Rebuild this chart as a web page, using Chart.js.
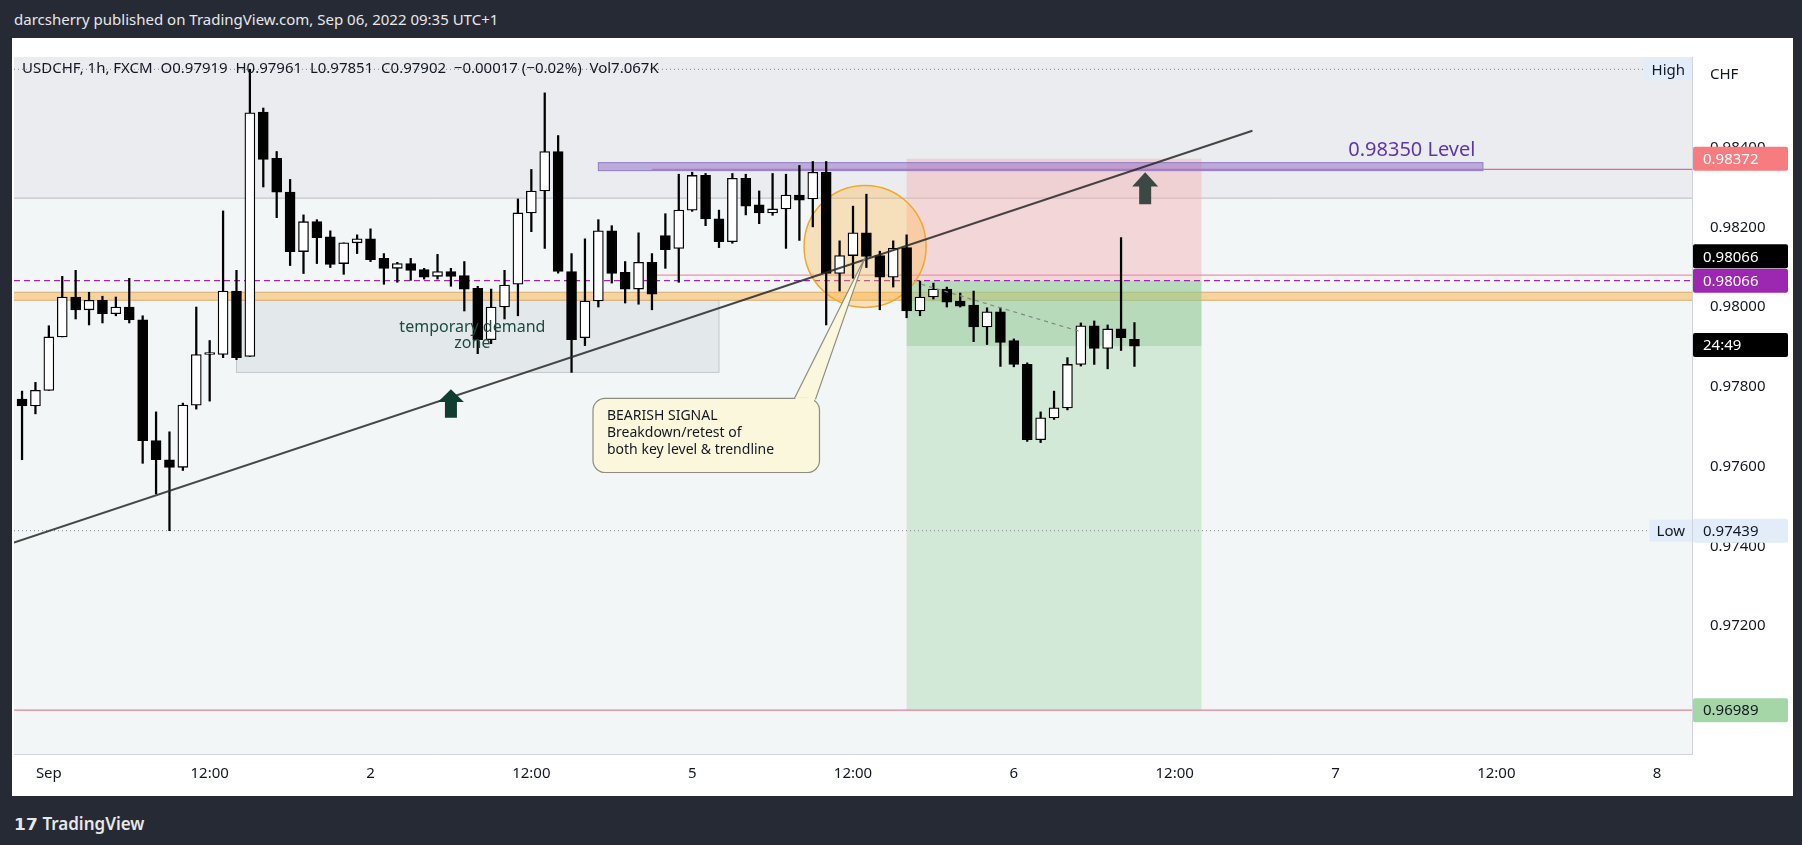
<!DOCTYPE html>
<html>
<head>
<meta charset="utf-8">
<script src="https://cdn.jsdelivr.net/npm/chart.js@4/dist/chart.umd.min.js"></script>
<style>
  html, body { margin: 0; padding: 0; background: #262a34; width: 1802px; height: 845px; overflow: hidden; font-family: "Noto Sans", sans-serif; }
  #hdr { position: absolute; left: 14px; top: 9px; color: #e8e8e8; font-size: 15px; }
  #wrap { position: absolute; left: 12px; top: 38px; width: 1781px; height: 758px; background: #fff; }
  #foot { position: absolute; left: 14px; top: 812px; color: #e8e8e8; font-size: 17px; font-weight: 600; }
</style>
</head>
<body>
<div id="hdr">darcsherry published on TradingView.com, Sep 06, 2022 09:35 UTC+1</div>
<div id="wrap"><canvas id="c" width="1781" height="758"></canvas></div>
<div id="foot">𝟭𝟳 TradingView</div>
<script>
// hourly bars, USDCHF 1h — first bar is Aug 31 22:00 (hour -2 from Sep 1 00:00)
const firstHour = -2;
const opens  = [0.97769,0.97752,0.97791,0.97925,0.98025,0.97993,0.98017,0.97983,0.98000,0.97968,0.97665,0.97617,0.97598,0.97754,0.97881,0.97881,0.98040,0.97876,0.98489,0.98373,0.98288,0.98139,0.98214,0.98176,0.98109,0.98161,0.98171,0.98122,0.98097,0.98109,0.98094,0.98077,0.98089,0.98079,0.98047,0.97918,0.98000,0.98057,0.98236,0.98291,0.98390,0.98089,0.97923,0.98015,0.98191,0.98087,0.98045,0.98112,0.98179,0.98147,0.98243,0.98330,0.98221,0.98164,0.98323,0.98256,0.98236,0.98246,0.98281,0.98271,0.98338,0.98084,0.98129,0.98186,0.98129,0.98075,0.98149,0.97990,0.98025,0.98045,0.98015,0.98005,0.97950,0.97988,0.97916,0.97856,0.97667,0.97722,0.97747,0.97856,0.97953,0.97896,0.97945,0.97919];
const highs  = [0.97789,0.97811,0.97953,0.98077,0.98092,0.98037,0.98027,0.98025,0.98072,0.97978,0.97737,0.97687,0.97759,0.98000,0.97916,0.98241,0.98092,0.98596,0.98499,0.98390,0.98320,0.98231,0.98219,0.98191,0.98161,0.98181,0.98196,0.98134,0.98112,0.98122,0.98097,0.98132,0.98097,0.98114,0.98052,0.98045,0.98092,0.98271,0.98345,0.98537,0.98430,0.98134,0.98171,0.98219,0.98204,0.98114,0.98186,0.98134,0.98234,0.98333,0.98338,0.98335,0.98243,0.98335,0.98333,0.98291,0.98335,0.98333,0.98355,0.98365,0.98365,0.98166,0.98253,0.98283,0.98140,0.98166,0.98181,0.98065,0.98060,0.98050,0.98035,0.98040,0.97998,0.97998,0.97920,0.97860,0.97737,0.97789,0.97873,0.97960,0.97965,0.97955,0.98174,0.97961];
const lows   = [0.97617,0.97732,0.97791,0.97925,0.97970,0.97955,0.97960,0.97978,0.97960,0.97608,0.97531,0.97439,0.97590,0.97744,0.97764,0.97873,0.97868,0.97876,0.98301,0.98224,0.98104,0.98084,0.98109,0.98099,0.98082,0.98134,0.98114,0.98057,0.98062,0.98067,0.98070,0.98070,0.98052,0.97990,0.97883,0.97908,0.97970,0.97978,0.98189,0.98147,0.98085,0.97836,0.97903,0.98000,0.98060,0.98010,0.98007,0.97993,0.98097,0.98062,0.98240,0.98204,0.98149,0.98160,0.98231,0.98209,0.98230,0.98147,0.98167,0.98201,0.97955,0.98040,0.98072,0.98099,0.97993,0.98050,0.97973,0.97978,0.98020,0.98000,0.98000,0.97913,0.97906,0.97851,0.97850,0.97663,0.97660,0.97718,0.97742,0.97852,0.97856,0.97845,0.97891,0.97851];
const closes = [0.97752,0.97791,0.97925,0.98025,0.97993,0.98017,0.97983,0.98000,0.97968,0.97665,0.97617,0.97598,0.97754,0.97881,0.97883,0.98040,0.97873,0.98487,0.98370,0.98288,0.98139,0.98214,0.98174,0.98107,0.98161,0.98171,0.98119,0.98097,0.98109,0.98092,0.98075,0.98089,0.98077,0.98045,0.97918,0.98000,0.98055,0.98236,0.98291,0.98390,0.98089,0.97918,0.98015,0.98191,0.98084,0.98045,0.98112,0.98032,0.98144,0.98243,0.98330,0.98221,0.98164,0.98323,0.98253,0.98236,0.98246,0.98281,0.98268,0.98338,0.98084,0.98129,0.98186,0.98127,0.98075,0.98147,0.97990,0.98025,0.98045,0.98012,0.98002,0.97950,0.97988,0.97911,0.97856,0.97667,0.97722,0.97747,0.97856,0.97953,0.97896,0.97945,0.97923,0.97902];

const tickHours  = [0, 12, 24, 36, 48, 60, 72, 84, 96, 108, 120];
const tickLabels = ['Sep', '12:00', '2', '12:00', '5', '12:00', '6', '12:00', '7', '12:00', '8'];
const priceTicks = [0.972, 0.974, 0.976, 0.978, 0.980, 0.982, 0.984];

// drawing levels
const highLevel = 0.98596, lowLevel = 0.97439;
const entry = 0.98066, stop = 0.98372, target = 0.96989, lastPrice = 0.97902;
const keyLevel = [0.98017, 0.98037];
const trend = [[-2.6, 0.97409], [89.8, 0.98442]];

const FONT = '"Noto Sans", sans-serif';
const wicks = opens.map((o, i) => ({ x: firstHour + i, y: [lows[i], highs[i]] }));
const bodies = opens.map((o, i) => ({ x: firstHour + i, y: [o, closes[i]] }));
const bodyCol = opens.map((o, i) => closes[i] >= o ? '#ffffff' : '#000000');

const overlay = {
  id: 'overlay',
  beforeDatasetsDraw(chart) {
    const { ctx, chartArea: a, scales: { x, y } } = chart;
    const X = v => x.getPixelForValue(v), Y = v => y.getPixelForValue(v);
    ctx.save();
    ctx.beginPath(); ctx.rect(a.left, a.top, a.width, a.height); ctx.clip();
    ctx.fillStyle = '#f2f6f7'; ctx.fillRect(a.left, a.top, a.width, a.height);
    ctx.fillStyle = '#ebecef'; ctx.fillRect(a.left, a.top, a.width, Y(0.98273) - a.top);
    ctx.strokeStyle = '#b8bbc0'; ctx.lineWidth = 1;
    ctx.beginPath(); ctx.moveTo(a.left, Y(0.98273)); ctx.lineTo(a.right, Y(0.98273)); ctx.stroke();
    // demand zone
    ctx.fillStyle = 'rgba(200,205,212,0.35)'; ctx.strokeStyle = '#c3c6cc';
    ctx.fillRect(X(14), Y(0.98017), X(50) - X(14), Y(0.97836) - Y(0.98017));
    ctx.strokeRect(X(14), Y(0.98017), X(50) - X(14), Y(0.97836) - Y(0.98017));
    // key level band
    ctx.fillStyle = '#f8d49c'; ctx.fillRect(a.left, Y(keyLevel[1]), a.width, Y(keyLevel[0]) - Y(keyLevel[1]));
    ctx.strokeStyle = '#d4ac74';
    ctx.strokeRect(a.left - 2, Y(keyLevel[1]), a.width + 4, Y(keyLevel[0]) - Y(keyLevel[1]));
    // short position
    ctx.fillStyle = 'rgba(244,170,170,0.4)'; ctx.fillRect(X(64), Y(stop), X(86) - X(64), Y(entry) - Y(stop));
    ctx.fillStyle = 'rgba(165,214,167,0.4)'; ctx.fillRect(X(64), Y(entry), X(86) - X(64), Y(target) - Y(entry));
    ctx.fillStyle = 'rgba(120,190,120,0.3)'; ctx.fillRect(X(64), Y(entry), X(86) - X(64), Y(lastPrice) - Y(entry));
    // level rectangle
    ctx.fillStyle = 'rgba(149,117,205,0.55)'; ctx.strokeStyle = '#8e7cc3';
    ctx.fillRect(X(41), Y(0.98362), X(107) - X(41), Y(0.98342) - Y(0.98362));
    ctx.strokeRect(X(41), Y(0.98362), X(107) - X(41), Y(0.98342) - Y(0.98362));
    // horizontal levels
    const hline = (p, col, dash, x0) => {
      ctx.strokeStyle = col; ctx.setLineDash(dash); ctx.lineWidth = 1.2;
      ctx.beginPath(); ctx.moveTo(x0 ?? a.left, Y(p)); ctx.lineTo(a.right, Y(p)); ctx.stroke();
      ctx.setLineDash([]);
    };
    hline(highLevel, '#9598a1', [1, 3]);
    hline(lowLevel, '#9598a1', [1, 3]);
    hline(entry, '#9c27b0', [6, 4]);
    hline(target, '#e57f9a', []);
    hline(0.98345, '#d66b9f', [], X(45));
    hline(0.98080, '#ef8fb0', [], X(45));
    // circle
    ctx.beginPath(); ctx.arc(X(60.9), Y(0.98152), 61, 0, Math.PI * 2);
    ctx.fillStyle = 'rgba(255,183,77,0.35)'; ctx.fill();
    ctx.strokeStyle = '#f5a623'; ctx.lineWidth = 1.5; ctx.stroke();
    ctx.restore();
  },
  afterDatasetsDraw(chart) {
    const { ctx, chartArea: a, scales: { x, y } } = chart;
    const X = v => x.getPixelForValue(v), Y = v => y.getPixelForValue(v);
    ctx.save();
    ctx.beginPath(); ctx.rect(a.left, a.top, a.width, a.height); ctx.clip();
    // trendline
    ctx.strokeStyle = 'rgba(40,40,40,0.85)'; ctx.lineWidth = 2;
    ctx.beginPath(); ctx.moveTo(X(trend[0][0]), Y(trend[0][1])); ctx.lineTo(X(trend[1][0]), Y(trend[1][1])); ctx.stroke();
    // dashed projection
    ctx.strokeStyle = '#7d8a80'; ctx.setLineDash([4, 4]); ctx.lineWidth = 1.2;
    ctx.beginPath(); ctx.moveTo(X(65.1), Y(0.98057)); ctx.lineTo(X(77), Y(0.97938)); ctx.stroke();
    ctx.setLineDash([]);
    // callout
    const bx0 = X(40.6), bx1 = X(57.5), by0 = Y(0.97771), by1 = Y(0.97585);
    ctx.beginPath();
    ctx.moveTo(X(55.6), by0 + 1); ctx.lineTo(X(60.9), Y(0.98125)); ctx.lineTo(X(57.2), by0 + 1);
    ctx.fillStyle = '#fbf7dc'; ctx.fill(); ctx.strokeStyle = '#8c8c80'; ctx.lineWidth = 1.2; ctx.stroke();
    ctx.beginPath(); ctx.roundRect(bx0, by0, bx1 - bx0, by1 - by0, 12);
    ctx.fill(); ctx.stroke();
    ctx.fillStyle = '#fbf7dc'; ctx.fillRect(X(55.7), by0 - 1, X(57.1) - X(55.7), 4);
    ctx.fillStyle = '#131722'; ctx.font = '14px ' + FONT; ctx.textBaseline = 'middle';
    ['BEARISH SIGNAL', 'Breakdown/retest of', 'both key level & trendline'].forEach((t, i) =>
      ctx.fillText(t, bx0 + 14, by0 + 18 + i * 17));
    // arrows
    const arrow = (h, top, bot, col) => {
      const cx = X(h), t = Y(top), b = Y(bot), mid = t + (b - t) * 0.45;
      ctx.beginPath();
      ctx.moveTo(cx, t); ctx.lineTo(cx + 13, mid); ctx.lineTo(cx + 6, mid); ctx.lineTo(cx + 6, b);
      ctx.lineTo(cx - 6, b); ctx.lineTo(cx - 6, mid); ctx.lineTo(cx - 13, mid); ctx.closePath();
      ctx.fillStyle = col; ctx.fill();
    };
    arrow(30, 0.97794, 0.97722, '#0f3d2f');
    arrow(81.8, 0.98338, 0.98258, '#3c4844');
    // texts
    ctx.fillStyle = '#1c4a3c'; ctx.font = '16px ' + FONT; ctx.textAlign = 'center';
    ctx.fillText('temporary demand', X(31.6), Y(0.97948));
    ctx.fillText('zone', X(31.6), Y(0.97908));
    ctx.fillStyle = '#5e35b1'; ctx.font = '20px ' + FONT;
    ctx.fillText('0.98350 Level', X(101.7), Y(0.98393));
    ctx.textAlign = 'left'; ctx.fillStyle = '#131722'; ctx.font = '15px ' + FONT;
    ctx.fillText('USDCHF, 1h, FXCM  O0.97919  H0.97961  L0.97851  C0.97902  −0.00017 (−0.02%)  Vol7.067K', a.left + 8, a.top + 12);
    // High / Low tags
    const tag = (t, h, p) => {
      ctx.font = '15px ' + FONT; const w = ctx.measureText(t).width + 14;
      ctx.fillStyle = '#e3edf9'; ctx.fillRect(X(h) - w, Y(p) - 11, w, 22);
      ctx.fillStyle = '#131722'; ctx.fillText(t, X(h) - w + 7, Y(p) + 1);
    };
    tag('High', 122.6, highLevel);
    tag('Low', 122.6, lowLevel);
    ctx.restore();
  },
  afterDraw(chart) {
    const { ctx, chartArea: a, scales: { y } } = chart;
    const Y = v => y.getPixelForValue(v);
    ctx.save();
    ctx.font = '15px ' + FONT; ctx.textBaseline = 'middle';
    const box = (p, txt, bg, fg) => {
      ctx.fillStyle = bg; ctx.beginPath(); ctx.roundRect(a.right + 1, Y(p) - 12, 95, 24, 2); ctx.fill();
      ctx.fillStyle = fg; ctx.fillText(txt, a.right + 11, Y(p) + 1);
    };
    box(stop, '0.98372', '#f77c80', '#ffffff');
    box(0.98127, '0.98066', '#000000', '#ffffff');
    box(entry, '0.98066', '#9c27b0', '#ffffff');
    box(0.97905, '24:49', '#000000', '#ffffff');
    box(lowLevel, '0.97439', '#e3edf9', '#131722');
    box(target, '0.96989', '#a5d6a7', '#131722');
    ctx.fillStyle = '#131722'; ctx.fillText('CHF', a.right + 18, a.top + 18);
    ctx.restore();
  }
};

new Chart(document.getElementById('c'), {
  type: 'bar',
  data: {
    datasets: [
      { data: wicks, backgroundColor: '#000', barThickness: 1.6, grouped: false, order: 2 },
      { data: bodies, backgroundColor: bodyCol, borderColor: '#000', borderWidth: 1.3,
        borderSkipped: false, barThickness: 10, minBarLength: 2, grouped: false, order: 1 },
    ],
  },
  options: {
    responsive: false,
    animation: false,
    layout: { padding: { left: 2, top: 2, right: 0, bottom: 0 } },
    plugins: { legend: { display: false }, tooltip: { enabled: false } },
    scales: {
      x: {
        type: 'linear', min: -2.6, max: 122.6, offset: false,
        grid: { display: false },
        border: { color: '#d1d4dc' },
        afterBuildTicks: s => { s.ticks = tickHours.map(v => ({ value: v })); },
        afterFit: s => { s.height = 42; },
        ticks: {
          autoSkip: false, maxRotation: 0, color: '#131722', font: { family: FONT, size: 15 },
          callback: v => tickLabels[tickHours.indexOf(v)],
        },
      },
      y: {
        position: 'right', min: 0.96879, max: 0.98627,
        grid: { display: false },
        border: { color: '#d1d4dc' },
        afterBuildTicks: s => { s.ticks = priceTicks.map(v => ({ value: v })); },
        afterFit: s => { s.width = 101; },
        ticks: { color: '#131722', padding: 10, font: { family: FONT, size: 15 }, callback: v => v.toFixed(5) },
      },
    },
  },
  plugins: [overlay],
});
</script>
</body>
</html>
